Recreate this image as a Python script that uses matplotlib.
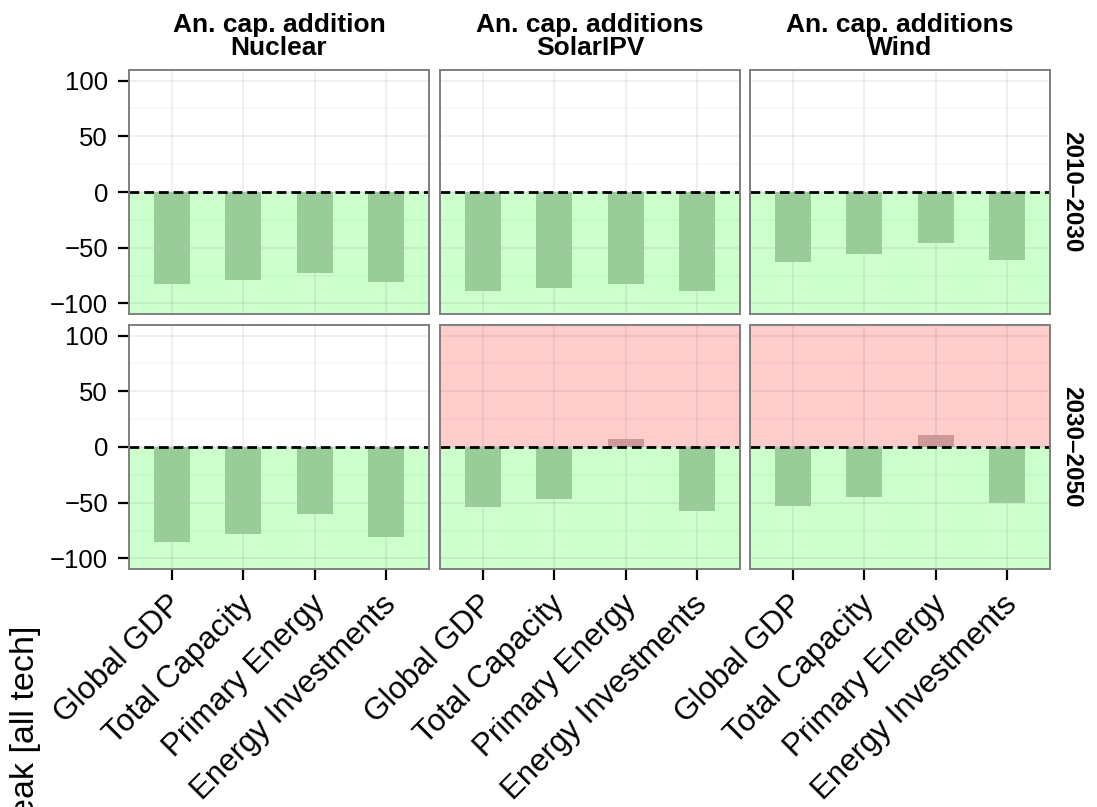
import matplotlib
matplotlib.use('Agg')
import matplotlib.pyplot as plt
import matplotlib.transforms as mtransforms
import numpy as np

plt.rcParams['font.family'] = ['Liberation Sans', 'DejaVu Sans']

# categories / facets
indicators = ['Global GDP', 'Total Capacity', 'Primary Energy', 'Energy Investments']
techs = ['An. cap. addition\nNuclear', 'An. cap. additions\nSolarIPV', 'An. cap. additions\nWind']
periods = ['2010\u20132030', '2030\u20132050']

# values per period, one list per technology
nuclear_2010 = [-83, -79, -73, -81]
solar_2010 = [-89, -86, -83, -89]
wind_2010 = [-63, -56, -46, -61]
nuclear_2030 = [-85, -78, -60, -81]
solar_2030 = [-54, -47, 7, -57]
wind_2030 = [-53, -45, 11, -50]

values = [[nuclear_2010, solar_2010, wind_2010],
          [nuclear_2030, solar_2030, wind_2030]]

W, H = 1097, 807
fig = plt.figure(figsize=(W / 100, H / 100), dpi=100)

col_x = [129, 440, 750]
row_y = [70, 325]
pw, ph = 300, 244

# small nudge for the rotated x labels
nudge = mtransforms.ScaledTranslation(-5 / 100, -5 / 100, fig.dpi_scale_trans)

x = np.arange(1, len(indicators) + 1)
for r in range(2):
    for c in range(3):
        ax = fig.add_axes([col_x[c] / W, 1 - (row_y[r] + ph) / H, pw / W, ph / H])
        vals = np.array(values[r][c])
        ax.set_xlim(0.4, 4.6)
        ax.set_ylim(-109.5, 109.5)
        ax.axhspan(-200, 0, color='#CCFFCC', zorder=0.2, lw=0)
        if (vals > 0).any():
            ax.axhspan(0, 200, color='#FFCCCC', zorder=0.2, lw=0)
        ax.set_axisbelow(True)
        ax.set_yticks([-100, -50, 0, 50, 100])
        ax.set_yticks([-75, -25, 25, 75], minor=True)
        ax.set_xticks(x)
        ax.grid(True, which='major', color='black', alpha=0.07, lw=1.2, zorder=0.5)
        ax.grid(True, which='minor', axis='y', color='black', alpha=0.03, lw=1.2, zorder=0.5)
        cols = ['#CC9999' if v > 0 else '#99CC99' for v in vals]
        ax.bar(x, vals, width=0.5, color=cols, zorder=1)
        ax.axhline(0, color='black', lw=2, dashes=(3.5, 1.8), zorder=2)
        for s in ax.spines.values():
            s.set_color('#7F7F7F')
            s.set_linewidth(1.4)
        ax.tick_params(which='major', length=8, width=1.6, color='black')
        ax.tick_params(axis='y', labelsize=18.5, pad=7)
        ax.tick_params(axis='x', labelsize=22.5, pad=3)
        ax.tick_params(which='minor', length=0)
        if c == 0:
            ax.set_yticklabels(['\u2212100', '\u221250', '0', '50', '100'])
        else:
            ax.tick_params(axis='y', which='both', left=False, labelleft=False)
        if r == 1:
            ax.set_xticklabels(indicators, rotation=45, ha='right', va='top',
                               rotation_mode='anchor')
            for lab in ax.get_xticklabels():
                lab.set_transform(lab.get_transform() + nudge)
        else:
            ax.tick_params(axis='x', bottom=False, labelbottom=False)
        if r == 0:
            ax.set_title(techs[c], fontsize=19, fontweight='bold', pad=11,
                         linespacing=0.95)
        if c == 2:
            ax.text(1.073, 0.5, periods[r], transform=ax.transAxes, rotation=-90,
                    ha='center', va='center', fontsize=17.5, fontweight='bold')

fig.text(26 / W, 1 - 626 / H, 'Change relative to peak [all tech]', rotation=90,
         ha='center', va='top', fontsize=24.5)

fig.savefig('out.png', dpi=100)
